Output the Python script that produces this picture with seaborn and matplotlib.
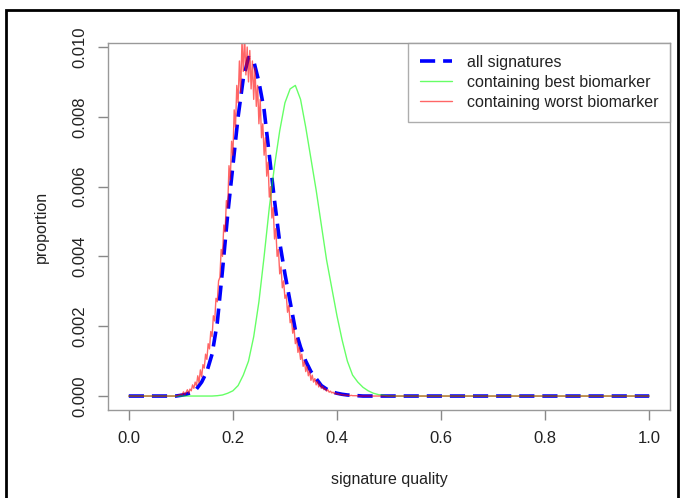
import numpy as np
import pandas as pd
import matplotlib
matplotlib.use("Agg")
import matplotlib.pyplot as plt
from matplotlib.patches import Rectangle
import seaborn as sns

# values
# all signatures: 0.00 .. 1.00 in steps of 0.01
all_sig = ([0.0] * 10 +
           [0.00002, 0.00005, 0.0001, 0.0002, 0.0004, 0.0007, 0.0012, 0.0021, 0.0036, 0.0052,
            0.0066, 0.0080, 0.0091, 0.0097, 0.0096, 0.0090, 0.0082, 0.0069, 0.0056, 0.0044,
            0.0035, 0.0027, 0.0019, 0.0014, 0.0010, 0.0007, 0.0005, 0.0003, 0.0002, 0.00012,
            0.00008, 0.00005, 0.00003, 0.00002, 0.00001] +
           [0.0] * 56)

# containing best biomarker: 0.00 .. 1.00 in steps of 0.01
best_sig = ([0.0] * 17 +
            [0.00001, 0.00003, 0.00008, 0.00015, 0.0003, 0.0006, 0.0010, 0.0017, 0.0027, 0.0040,
             0.0054, 0.0066, 0.0076, 0.0084, 0.0088, 0.0089, 0.0085, 0.0077, 0.0068, 0.0059,
             0.0049, 0.0039, 0.0031, 0.0023, 0.0016, 0.0010, 0.0006, 0.0004, 0.00025, 0.00015,
             0.00008, 0.00004, 0.00002] +
            [0.0] * 51)

# containing worst biomarker: noisy, 0.100 .. 0.450 in steps of 0.0025
worst_core = [
    0.00005, 0.00003, 0.00012, 0.00004, 0.00010, 0.00018, 0.00008, 0.00020,
    0.00015, 0.00032, 0.00022, 0.00040, 0.00030, 0.00058, 0.00038, 0.00075,
    0.00055, 0.00090, 0.00080, 0.00120, 0.00105, 0.00150, 0.00135, 0.00185,
    0.00170, 0.00230, 0.00215, 0.00280, 0.00270, 0.00330, 0.00340, 0.00420,
    0.00400, 0.00490, 0.00470, 0.00560, 0.00540, 0.00660, 0.00620, 0.00730,
    0.00690, 0.00820, 0.00770, 0.00890, 0.00840, 0.00960, 0.00870, 0.01020,
    0.00930, 0.01030, 0.00920, 0.01000, 0.00900, 0.00990, 0.00880, 0.00960,
    0.00850, 0.00940, 0.00830, 0.00890, 0.00780, 0.00850, 0.00740, 0.00780,
    0.00690, 0.00740, 0.00630, 0.00670, 0.00570, 0.00600, 0.00510, 0.00540,
    0.00450, 0.00480, 0.00400, 0.00420, 0.00350, 0.00370, 0.00310, 0.00330,
    0.00280, 0.00290, 0.00240, 0.00260, 0.00210, 0.00220, 0.00180, 0.00195,
    0.00150, 0.00165, 0.00125, 0.00140, 0.00105, 0.00120, 0.00085, 0.00100,
    0.00070, 0.00085, 0.00058, 0.00072, 0.00045, 0.00060, 0.00040, 0.00050,
    0.00032, 0.00042, 0.00026, 0.00035, 0.00022, 0.00028, 0.00018, 0.00022,
    0.00014, 0.00018, 0.00011, 0.00014, 0.00009, 0.00011, 0.00007, 0.00009,
    0.00005, 0.00007, 0.00004, 0.00005, 0.00003, 0.00004, 0.00002, 0.00003,
    0.00002, 0.00002, 0.00001, 0.00002, 0.00001, 0.00001, 0.00001, 0.00001,
    0.0, 0.00001, 0.0, 0.0, 0.0]

grid_x = np.round(np.arange(len(all_sig)) * 0.01, 4)
worst_x = np.concatenate([np.round(np.arange(10) * 0.01, 4),
                          np.round(0.1 + np.arange(len(worst_core)) * 0.0025, 4),
                          np.round(0.46 + np.arange(55) * 0.01, 4)])
worst_sig = [0.0] * 10 + worst_core + [0.0] * 55

df_all = pd.DataFrame({"quality": grid_x, "proportion": all_sig})
df_best = pd.DataFrame({"quality": grid_x, "proportion": best_sig})
df_worst = pd.DataFrame({"quality": worst_x, "proportion": worst_sig})

sns.set_style("white")
plt.rcParams["font.family"] = ["Liberation Sans", "DejaVu Sans"]

fig = plt.figure(figsize=(6.81, 4.98), dpi=100)
ax = fig.add_axes([108 / 681, 1 - 410 / 498, 562 / 681, 367 / 498])

sns.lineplot(data=df_all, x="quality", y="proportion", ax=ax, color="#0000ff",
             lw=2.6, linestyle=(0, (4.2, 2.2)), estimator=None, label="all signatures")
sns.lineplot(data=df_best, x="quality", y="proportion", ax=ax, color="#00ff00",
             lw=1.0, alpha=0.6, estimator=None, label="containing best biomarker")
sns.lineplot(data=df_worst, x="quality", y="proportion", ax=ax, color="#ff0000",
             lw=1.0, alpha=0.6, estimator=None, label="containing worst biomarker")

ax.set_xlim(-0.04, 1.04)
ax.set_ylim(-0.0004, 0.010115)
ax.set_xticks([0.0, 0.2, 0.4, 0.6, 0.8, 1.0])
ax.set_xticklabels(["0.0", "0.2", "0.4", "0.6", "0.8", "1.0"])
ax.set_yticks([0.0, 0.002, 0.004, 0.006, 0.008, 0.010])
ax.set_yticklabels(["0.000", "0.002", "0.004", "0.006", "0.008", "0.010"],
                   rotation=90, va="center")

ax.tick_params(axis="both", direction="out", length=7, width=1, color="#888888",
               labelsize=12, labelcolor="#222222", pad=8,
               bottom=True, left=True)
for s in ax.spines.values():
    s.set_color("#999999")
    s.set_linewidth(1)

ax.set_xlabel("signature quality", fontsize=11.5, color="#222222", labelpad=19)
ax.set_ylabel("proportion", fontsize=11.5, color="#222222", labelpad=17)

leg = ax.legend(loc="upper right", frameon=True, fancybox=False, borderaxespad=0,
                fontsize=11.5, handlelength=2.0, handletextpad=0.9, labelspacing=0.3,
                borderpad=0.75)
leg.get_frame().set_edgecolor("#999999")
leg.get_frame().set_linewidth(1)
for t in leg.get_texts():
    t.set_color("#222222")

# dark frame around the whole picture
fig.patches.append(Rectangle((6 / 681, -0.02), 672 / 681, 1 - 10 / 498 + 0.02,
                             transform=fig.transFigure, fill=False,
                             ec="black", lw=2))

fig.savefig("out.png", dpi=100)
